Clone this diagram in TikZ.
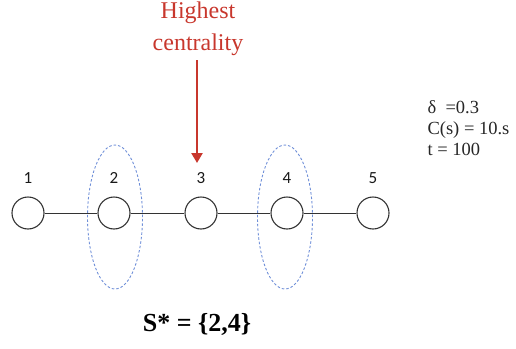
\documentclass[tikz,border=0pt]{standalone}
\usepackage{fontspec}
\setmainfont{Liberation Serif}
\newfontfamily\etiqfont{Carlito}
\usepackage{tikz}
\usetikzlibrary{positioning,arrows.meta,shapes.geometric}
\definecolor{crojo}{HTML}{C8372D}
\definecolor{cazul}{HTML}{6F8FD8}
\definecolor{cgris}{HTML}{333333}
\tikzset{
  nodo/.style={circle, draw=cgris, line width=1.1pt, minimum size=32pt, inner sep=0pt},
  enlace/.style={draw=cgris, line width=1pt},
  grupo/.style={ellipse, draw=cazul, line width=0.9pt, dash pattern=on 2.5pt off 2pt,
    minimum width=55pt, minimum height=144pt},
  num/.style={font=\etiqfont\fontsize{17}{19}\selectfont, text=black!90},
  flecha/.style={-{Triangle[length=10pt,width=11pt]}, draw=crojo, line width=2.6pt},
  etq/.style={font=\fontsize{24}{32}\selectfont, text=crojo, align=center},
  param/.style={font=\fontsize{18.5}{21}\selectfont, align=left, text=black!85},
}
\begin{document}
\begin{tikzpicture}[x=1pt,y=-1pt]
  \useasboundingbox (0,0) rectangle (516,348);
  % nodes of the path
  \foreach \i/\x in {1/28,2/114,3/201,4/287,5/373}{
    \node[nodo] (n\i) at (\x,213) {};
    \node[num, above=9pt of n\i] (l\i) {\i};
  }
  \foreach \a/\b in {1/2,2/3,3/4,4/5}
    \draw[enlace] (n\a)--(n\b);
  % selected set
  \node[grupo] (g2) at (115,217) {};
  \node[grupo] (g4) at (285,217) {};
  % centrality
  \node[etq] (hc) at (198,29) {Highest\\centrality};
  \coordinate (pt) at (197,163);
  \draw[flecha] (hc.south -| pt) ++(0,-1pt) -- (pt);
  \node[param, anchor=west] (pr) at (424,128) {δ\ \ =0.3\\C(s) = 10.s\\t = 100};
  \node[font=\bfseries\fontsize{26}{28}\selectfont] (res) at (197,324) {S* = \{2,4\}};
\end{tikzpicture}
\end{document}
